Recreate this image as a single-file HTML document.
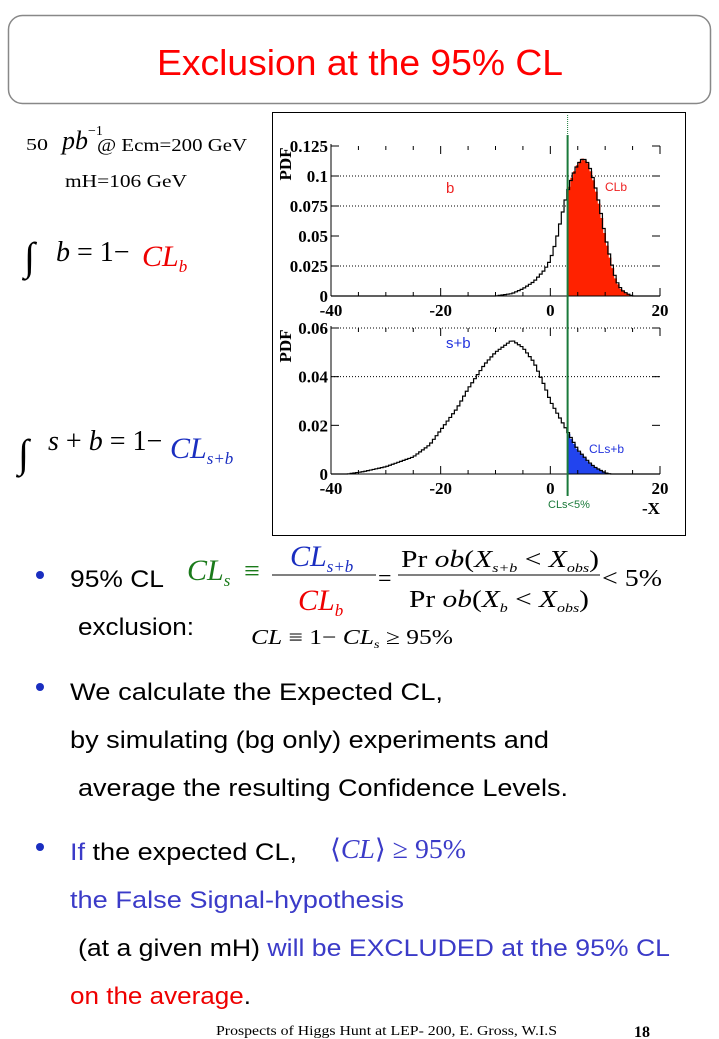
<!DOCTYPE html>
<html><head><meta charset="utf-8"><style>
html,body{margin:0;padding:0;background:#fff;}
svg{display:block}
.a{font-family:"Liberation Sans",sans-serif}
.t{font-family:"Liberation Serif",serif}
.tk{font-family:"Liberation Serif",serif;font-weight:bold;font-size:17px}
</style></head><body>
<svg id="s" width="719" height="1039" viewBox="0 0 719 1039" xmlns="http://www.w3.org/2000/svg">
<rect x="8.5" y="15.5" width="702" height="88" rx="14" fill="#fff" stroke="#888" stroke-width="1.5"/>
<text x="157" y="75" class="a" font-size="36" fill="#f00" textLength="406" lengthAdjust="spacingAndGlyphs">Exclusion at the  95% CL</text>

<text x="26" y="150" class="t" font-size="17" textLength="22" lengthAdjust="spacingAndGlyphs">50</text>
<text x="62" y="149" class="t" font-size="26" font-style="italic">pb</text>
<text x="88" y="135" class="t" font-size="14">−1</text>
<text x="97" y="151" class="t" font-size="18" textLength="150" lengthAdjust="spacingAndGlyphs">@ Ecm=200 GeV</text>
<text x="65" y="187" class="t" font-size="18" textLength="122" lengthAdjust="spacingAndGlyphs">mH=106 GeV</text>

<text x="24" y="270" class="t" font-size="40">∫</text>
<text x="56" y="261" class="t" font-size="28"><tspan font-style="italic">b</tspan> = 1−</text>
<text x="142" y="266" class="t" font-size="30" font-style="italic" fill="#e00">CL<tspan font-size="17" dy="6">b</tspan></text>

<text x="18" y="467" class="t" font-size="40">∫</text>
<text x="48" y="450" class="t" font-size="28"><tspan font-style="italic">s</tspan> + <tspan font-style="italic">b</tspan> = 1−</text>
<text x="170" y="458" class="t" font-size="30" font-style="italic" fill="#1a2ec0">CL<tspan font-size="17" dy="6">s+b</tspan></text>

<rect x="272.5" y="112.5" width="413" height="423" fill="#fff" stroke="#000" stroke-width="1"/>
<g id="g"></g>

<circle cx="40" cy="575" r="4" fill="#1a2ec0"/>
<text x="70" y="587" class="a" font-size="24" textLength="94" lengthAdjust="spacingAndGlyphs">95% CL</text>
<text x="78" y="635" class="a" font-size="24" textLength="116" lengthAdjust="spacingAndGlyphs">exclusion:</text>
<text x="187" y="580" class="t" font-size="30" font-style="italic" fill="#1a7a1a">CL<tspan font-size="17" dy="6">s</tspan></text>
<text x="244" y="580" class="t" font-size="28" fill="#1a7a1a">≡</text>
<line x1="272" y1="575" x2="376" y2="575" stroke="#000" stroke-width="1"/>
<text x="290" y="566" class="t" font-size="30" font-style="italic" fill="#1a2ec0">CL<tspan font-size="17" dy="6">s+b</tspan></text>
<text x="298" y="610" class="t" font-size="30" font-style="italic" fill="#e00">CL<tspan font-size="17" dy="6">b</tspan></text>
<text x="378" y="586" class="t" font-size="24">=</text>
<line x1="398" y1="575" x2="600" y2="575" stroke="#000" stroke-width="1"/>
<text x="401" y="567" class="t" font-size="24" textLength="198" lengthAdjust="spacingAndGlyphs">Pr <tspan font-style="italic">ob</tspan>(<tspan font-style="italic">X</tspan><tspan font-size="13" dy="5" font-style="italic">s+b</tspan><tspan dy="-5"> &lt; </tspan><tspan font-style="italic">X</tspan><tspan font-size="13" dy="5" font-style="italic">obs</tspan><tspan dy="-5">)</tspan></text>
<text x="409" y="607" class="t" font-size="24" textLength="180" lengthAdjust="spacingAndGlyphs">Pr <tspan font-style="italic">ob</tspan>(<tspan font-style="italic">X</tspan><tspan font-size="13" dy="5" font-style="italic">b</tspan><tspan dy="-5"> &lt; </tspan><tspan font-style="italic">X</tspan><tspan font-size="13" dy="5" font-style="italic">obs</tspan><tspan dy="-5">)</tspan></text>
<text x="602" y="586" class="t" font-size="24" textLength="60" lengthAdjust="spacingAndGlyphs">&lt; 5%</text>
<text x="251" y="644" class="t" font-size="21" textLength="202" lengthAdjust="spacingAndGlyphs"><tspan font-style="italic">CL</tspan> ≡ 1− <tspan font-style="italic">CL</tspan><tspan font-size="12" dy="4" font-style="italic">s</tspan><tspan dy="-4"> ≥ 95%</tspan></text>

<circle cx="40" cy="687" r="4" fill="#1a2ec0"/>
<text x="70" y="700" class="a" font-size="24" textLength="373" lengthAdjust="spacingAndGlyphs">We calculate the Expected CL,</text>
<text x="70" y="748" class="a" font-size="24" textLength="479" lengthAdjust="spacingAndGlyphs">by simulating (bg only) experiments and</text>
<text x="78" y="796" class="a" font-size="24" textLength="490" lengthAdjust="spacingAndGlyphs">average the resulting Confidence Levels.</text>

<circle cx="40" cy="847" r="4" fill="#1a2ec0"/>
<text x="70" y="860" class="a" font-size="24" textLength="227" lengthAdjust="spacingAndGlyphs"><tspan fill="#3b3bc8">If</tspan> the expected CL,</text>
<text x="330" y="858" class="t" font-size="27" fill="#3b3bc8" textLength="136" lengthAdjust="spacingAndGlyphs">⟨<tspan font-style="italic">CL</tspan>⟩ ≥ 95%</text>
<text x="70" y="908" class="a" font-size="24" fill="#3b3bc8" textLength="334" lengthAdjust="spacingAndGlyphs">the False Signal-hypothesis</text>
<text x="78" y="956" class="a" font-size="24" textLength="592" lengthAdjust="spacingAndGlyphs">(at a given mH) <tspan fill="#3b3bc8">will be EXCLUDED at the 95% CL</tspan></text>
<text x="70" y="1004" class="a" font-size="24" fill="#e00" textLength="181" lengthAdjust="spacingAndGlyphs">on the average<tspan fill="#000">.</tspan></text>

<text x="216" y="1035" class="t" font-size="14" textLength="341" lengthAdjust="spacingAndGlyphs">Prospects of Higgs Hunt at LEP-   200, E. Gross, W.I.S</text>
<text x="634" y="1037" class="t" font-size="16" font-weight="bold">18</text>
</svg>
<script>
(function(){
var g=document.getElementById('g'),NS='http://www.w3.org/2000/svg';
function el(n,a,t){var e=document.createElementNS(NS,n);for(var k in a)e.setAttribute(k,a[k]);if(t!=null)e.textContent=t;g.appendChild(e);return e;}
var x0=331,x1=660;function X(v){return x0+(v+40)*(x1-x0)/60;}
function interp(pts,v){if(v<=pts[0][0]||v>=pts[pts.length-1][0])return 0;for(var i=1;i<pts.length;i++)if(v<=pts[i][0]){var a=pts[i-1],b=pts[i];return a[1]+(b[1]-a[1])*(v-a[0])/(b[0]-a[0]);}return 0;}
var bp=[[-10,0],[-7,0.002],[-5,0.006],[-3,0.012],[-1,0.022],[0,0.03],[1,0.045],[2,0.065],[3,0.085],[4,0.1],[5,0.11],[6,0.115],[7,0.11],[8,0.095],[9,0.075],[10,0.05],[11,0.03],[12,0.013],[13,0.005],[14,0.002],[15,0]];
var sp=[[-37,0],[-34,0.001],[-30,0.003],[-25,0.007],[-22,0.012],[-20,0.018],[-17,0.027],[-15,0.035],[-12,0.045],[-10,0.05],[-7,0.055],[-5,0.052],[-3,0.046],[-1,0.036],[0,0.03],[2,0.022],[3,0.018],[4,0.014],[5,0.01],[7,0.005],[8,0.003],[10,0.0005],[11,0]];
var xc=3.15;
function panel(yb,yt,ymax,ticks,pts,fill){
 function Y(v){return yb-(yb-yt)*v/ymax;}
 ticks.forEach(function(t){if(t[2])el('line',{x1:x0,y1:Y(t[0]),x2:x1,y2:Y(t[0]),stroke:'#000','stroke-width':1,'stroke-dasharray':'1,2'});});
 var bw=0.5,d='M'+X(xc)+' '+yb;
 for(var v=xc;v<20;v+=bw){var h=interp(pts,v+bw/2);d+=' L'+X(v)+' '+Y(h)+' L'+X(Math.min(v+bw,20))+' '+Y(h);}
 d+=' L'+X(20)+' '+yb+'Z';el('path',{d:d,fill:fill});
 var o='';for(var v=-40;v<20;v+=bw){var h=interp(pts,v+bw/2);o+=(o?' L':'M')+X(v)+' '+Y(h)+' L'+X(v+bw)+' '+Y(h);}
 el('path',{d:o,fill:'none',stroke:'#000','stroke-width':1.2});
 el('line',{x1:x0,y1:yb,x2:x1,y2:yb,stroke:'#000','stroke-width':1});
 el('line',{x1:x0,y1:yt-2,x2:x0,y2:yb,stroke:'#000','stroke-width':1});
 for(var v=-40;v<=20;v+=5){var L=(v%20==0)?8:4;var xx=X(v);
  el('line',{x1:xx,y1:yb,x2:xx,y2:yb-L,stroke:'#000'});el('line',{x1:xx,y1:yt,x2:xx,y2:yt+L,stroke:'#000'});}
 ticks.forEach(function(t){el('line',{x1:x0,y1:Y(t[0]),x2:x0+8,y2:Y(t[0]),stroke:'#000'});el('line',{x1:x1,y1:Y(t[0]),x2:x1-8,y2:Y(t[0]),stroke:'#000'});
  el('text',{x:x0-3,y:Y(t[0])+6,'text-anchor':'end','class':'tk'},t[1]);});
 [[-40,'-40'],[-20,'-20'],[0,'0'],[20,'20']].forEach(function(t){el('text',{x:X(t[0]),y:yb+20,'text-anchor':'middle','class':'tk'},t[1]);});
 el('text',{x:0,y:0,'class':'tk',transform:'translate(291,'+(yt+18)+') rotate(-90)','text-anchor':'middle'},'PDF');
}
panel(296,146,0.125,[[0,'0',0],[0.025,'0.025',1],[0.05,'0.05',0],[0.075,'0.075',1],[0.1,'0.1',1],[0.125,'0.125',0]],bp,'#ff2200');
panel(474,328,0.06,[[0,'0',0],[0.02,'0.02',0],[0.04,'0.04',1],[0.06,'0.06',1]],sp,'#2244ee');
function T(x,y,s,c,sz){el('text',{x:x,y:y,'class':'a','font-size':sz||12,fill:c},s);}
T(446,193,'b','#e22',15);T(605,191,'CLb','#e22',12);T(446,348,'s+b','#2233dd',15);T(589,453,'CLs+b','#2233dd',12);
T(548,508,'CLs<5%','#1a7a3a',11);
el('text',{x:642,y:514,'class':'tk'},'-X');
var gx=X(xc);el('line',{x1:gx,y1:115,x2:gx,y2:135,stroke:'#1a7a3a','stroke-width':1,'stroke-dasharray':'1,1'});
el('line',{x1:gx,y1:135,x2:gx,y2:496,stroke:'#1a7a3a','stroke-width':2});
})();
</script>
</body></html>
